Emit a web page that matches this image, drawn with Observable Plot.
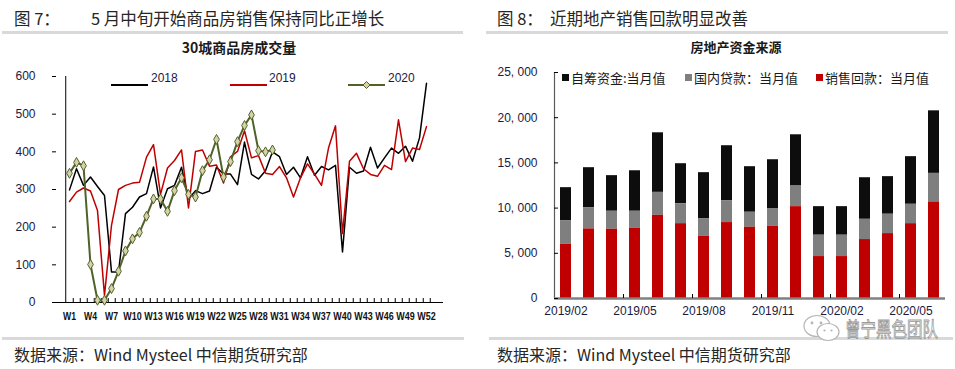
<!DOCTYPE html>
<html><head><meta charset="utf-8">
<script src="https://cdn.jsdelivr.net/npm/d3@7"></script>
<script src="https://cdn.jsdelivr.net/npm/@observablehq/plot@0.6"></script>
<style>
body{margin:0;background:#fff;}
#page{position:relative;width:955px;height:369px;overflow:hidden;font-family:"Noto Sans CJK SC","Noto Sans",sans-serif;color:#262626;background:#fff;}
.abs{position:absolute;white-space:nowrap;line-height:1;transform:translateY(-50%);}
.fig{font-size:16.5px;}
.hr{position:absolute;height:3px;background:#d9d9d9;}
.ct{font-weight:bold;font-size:14px;color:#1a1a1a;transform:translate(-50%,-50%);}
.src{font-size:16px;}
.lg{font-family:"Liberation Sans",Arial,sans-serif;font-size:12px;color:#1a1a40;}
.lg2{font-size:13px;color:#1a1a1a;}
.sw{position:absolute;}
.sq{position:absolute;width:7px;height:7px;}
.plot{position:absolute;}
</style></head>
<body><div id="page">
<div class="abs fig" style="left:14px;top:18px">图 7：</div>
<div class="abs fig" style="left:91px;top:18px">5 月中旬开始商品房销售保持同比正增长</div>
<div class="hr" style="left:2px;top:31px;width:461px"></div>
<div class="abs ct" style="left:239px;top:47px">30城商品房成交量</div>

<div class="abs fig" style="left:497px;top:18px">图 8：</div>
<div class="abs fig" style="left:550px;top:18px">近期地产销售回款明显改善</div>
<div class="hr" style="left:486px;top:31px;width:462px"></div>
<div class="abs ct" style="left:736px;top:46px;font-size:13px">房地产资金来源</div>

<div id="left" class="plot" style="left:0px;top:60px"></div>
<div id="right" class="plot" style="left:480px;top:60px"></div>

<div id="legL"></div>
<div id="legR"></div>

<div class="hr" style="left:2px;top:337px;width:462px"></div>
<div class="hr" style="left:489px;top:337px;width:464px"></div>
<div class="abs src" style="left:14px;top:354px">数据来源：Wind Mysteel 中信期货研究部</div>
<div class="abs src" style="left:497px;top:354px">数据来源：Wind Mysteel 中信期货研究部</div>
<svg style="position:absolute;left:800px;top:313px" width="44" height="30">
  <ellipse cx="17" cy="13" rx="13" ry="10.5" fill="none" stroke="#b5b5b5" stroke-width="1.2"/>
  <ellipse cx="28" cy="19" rx="11" ry="8.5" fill="#fff" stroke="#b5b5b5" stroke-width="1.2"/>
  <circle cx="12" cy="10" r="1.4" fill="#b5b5b5"/><circle cx="21" cy="10" r="1.4" fill="#b5b5b5"/>
  <circle cx="24.5" cy="17.5" r="1.1" fill="#b5b5b5"/><circle cx="31.5" cy="17.5" r="1.1" fill="#b5b5b5"/>
</svg>
<div class="abs" style="left:845px;top:329px;font-size:15.5px;color:transparent;-webkit-text-stroke:0.7px #9a9a9a;transform:translateY(-50%) scaleY(1.3);transform-origin:left center;">曾宁黑色团队</div>
</div>
<script>
// ---------- Chart 1 data: 30城商品房成交量 ----------
const weeks = ["W1","W2","W3","W4","W5","W6","W7","W8","W9","W10","W11","W12","W13","W14","W15","W16","W17","W18","W19","W20","W21","W22","W23","W24","W25","W26","W27","W28","W29","W30","W31","W32","W33","W34","W35","W36","W37","W38","W39","W40","W41","W42","W43","W44","W45","W46","W47","W48","W49","W50","W51","W52"];
const weekTickLabels = ["W1","W4","W7","W10","W13","W16","W19","W22","W25","W28","W31","W34","W37","W40","W43","W46","W49","W52"];
const yTicksL = [0,100,200,300,400,500,600];
const s2018 = [299,355,311,333,308,284,81,81,236,253,280,289,360,251,302,311,359,275,297,289,296,359,341,341,313,426,340,328,350,400,387,340,359,331,387,338,361,352,364,134,359,343,349,412,357,384,410,396,415,375,437,582];
const s2019 = [268,293,304,296,244,19,205,300,311,317,319,386,419,287,357,377,405,251,401,405,362,365,317,387,401,456,384,390,343,340,361,331,280,331,368,341,311,410,469,183,375,396,355,340,335,364,353,485,374,410,406,467];
const s2020 = [343,372,363,101,6,6,37,83,137,169,186,229,275,275,242,297,331,287,280,350,379,433,333,374,427,470,498,403,400,405];
const seriesL = ["2018","2019","2020"];
const colorsL = ["#000000","#c00000","#4f6228"];

// ---------- Chart 2 data: 房地产资金来源 ----------
const months = ["2019/02","2019/03","2019/04","2019/05","2019/06","2019/07","2019/08","2019/09","2019/10","2019/11","2019/12","2020/01","2020/02","2020/03","2020/04","2020/05","2020/06"];
const monthTickLabels = ["2019/02","2019/05","2019/08","2019/11","2020/02","2020/05"];
const yTicksR = [0,5000,10000,15000,20000,25000];
const selfFunds = [3680,4450,3940,4480,6590,4420,5080,6070,5040,5450,5670,3160,3160,4600,4160,5270,6920];
const domesticLoans = [2580,2320,1990,1880,2540,2210,1950,2430,1660,1910,2280,2360,2360,2240,2140,2140,3160];
const salesReturns = [6000,7700,7660,7770,9200,8280,6890,8400,7880,7990,10160,4640,4640,6520,7180,8280,10680];
const seriesR = ["自筹资金:当月值","国内贷款：当月值","销售回款：当月值"];
const colorsR = ["#0d0d0d","#7f7f7f","#c00000"];

// ---------- Left plot ----------
const W1 = 470, H1 = 270, ml1 = 52, mr1 = 27, mt1 = 16, mb1 = 28;
const step1 = (W1 - ml1 - mr1) / weeks.length;
const rows = (arr, s) => arr.map((v, i) => ({week: weeks[i], value: v, series: s}));
const tickLenL = 600 * 4 / (H1 - mt1 - mb1);
const leftPlot = Plot.plot({
  width: W1, height: H1, marginLeft: ml1, marginRight: mr1, marginTop: mt1, marginBottom: mb1,
  style: {fontFamily: "'Liberation Sans', Arial, sans-serif", fontSize: "12px", color: "#1a1a40", background: "transparent", overflow: "visible"},
  x: {type: "point", domain: weeks, padding: 0.5, label: null},
  y: {domain: [0, 600], label: null},
  marks: [
    Plot.ruleX(weeks, {dx: step1 / 2, y1: 0, y2: tickLenL, stroke: "#000", strokeWidth: 1}),
    Plot.ruleX([weeks[0]], {dx: -step1 / 2, stroke: "#000", strokeWidth: 1}),
    Plot.ruleY([0], {stroke: "#000", strokeWidth: 1}),
    Plot.axisY({ticks: yTicksL, tickSize: -4, tickPadding: 21, fontSize: 12, label: null, stroke: "#000"}),
    Plot.axisX({ticks: weekTickLabels, tickSize: 0, tickPadding: 10, label: null, fontSize: 11, fontWeight: "bold",
      fontFamily: "'Liberation Sans', Arial, sans-serif", fill: "#111"}),
    Plot.line(rows(s2018, "2018"), {x: "week", y: "value", stroke: colorsL[0], strokeWidth: 1.5}),
    Plot.line(rows(s2019, "2019"), {x: "week", y: "value", stroke: colorsL[1], strokeWidth: 1.5}),
    Plot.line(rows(s2020, "2020"), {x: "week", y: "value", stroke: colorsL[2], strokeWidth: 2}),
    Plot.dot(rows(s2020, "2020"), {x: "week", y: "value", symbol: "diamond", r: 3, fill: "#d6d1a9", stroke: colorsL[2], strokeWidth: 1})
  ]
});
document.getElementById("left").appendChild(leftPlot);
// condense week tick labels (narrow font look)
d3.select(leftPlot).selectAll("text").each(function() {
  const t = this.textContent;
  if (/^W\d+$/.test(t)) {
    this.setAttribute("textLength", (7.6 + 5.4 * (t.length - 1)).toFixed(1));
    this.setAttribute("lengthAdjust", "spacingAndGlyphs");
  }
});

// ---------- Right plot ----------
const W2 = 475, H2 = 270, ml2 = 74, mr2 = 10, mt2 = 12, mb2 = 32;
const step2 = (W2 - ml2 - mr2) / months.length;
const table = [];
months.forEach((m, i) => {
  table.push({month: m, series: seriesR[0], value: selfFunds[i]});
  table.push({month: m, series: seriesR[1], value: domesticLoans[i]});
  table.push({month: m, series: seriesR[2], value: salesReturns[i]});
});
const fmtR = d => d3.format(",")(d).replace(/,/g, ", ");
const tickLenR = 25000 * 4 / (H2 - mt2 - mb2);
const rightPlot = Plot.plot({
  width: W2, height: H2, marginLeft: ml2, marginRight: mr2, marginTop: mt2, marginBottom: mb2,
  style: {fontFamily: "'Liberation Sans', Arial, sans-serif", fontSize: "12px", color: "#1a1a40", background: "transparent", overflow: "visible"},
  x: {type: "band", domain: months, paddingInner: 0.52, paddingOuter: 0.26, label: null},
  y: {domain: [0, 25000], label: null},
  color: {domain: seriesR, range: colorsR},
  marks: [
    Plot.barY(table, Plot.stackY({x: "month", y: "value", fill: "series", order: [seriesR[2], seriesR[1], seriesR[0]]})),
    Plot.ruleX([months[0]], {dx: -step2 / 2, stroke: "#595959", strokeWidth: 1.2}),
    Plot.ruleY([0], {stroke: "#808080", strokeWidth: 2.5}),
    Plot.ruleX(monthTickLabels.slice(1), {dx: -step2 / 2, y1: 0, y2: tickLenR, stroke: "#000"}),
    Plot.axisY({ticks: yTicksR, tickSize: -4, tickPadding: 21, tickFormat: fmtR, fontSize: 12, label: null, stroke: "#000"}),
    Plot.axisX({ticks: monthTickLabels, tickSize: 0, tickPadding: 8, label: null, fontSize: 12, fill: "#1a1a40"})
  ]
});
document.getElementById("right").appendChild(rightPlot);

// ---------- Legends (HTML) ----------
const legL = document.getElementById("legL");
const legLPos = [{line: 111, text: 151}, {line: 230, text: 269}, {line: 348, text: 388}];
seriesL.forEach((s, i) => {
  const p = legLPos[i];
  const sw = document.createElement("div");
  sw.className = "sw";
  sw.style.left = p.line + "px"; sw.style.top = "72px";
  let svg = `<svg width="38" height="12"><line x1="0" x2="37" y1="6" y2="6" stroke="${colorsL[i]}" stroke-width="2"/>`;
  if (s === "2020") svg += `<path d="M18.5,2.5 L22,6 L18.5,9.5 L15,6 Z" fill="#d6d1a9" stroke="${colorsL[i]}" stroke-width="1"/>`;
  svg += `</svg>`;
  sw.innerHTML = svg;
  legL.appendChild(sw);
  const t = document.createElement("div");
  t.className = "abs lg";
  t.style.left = p.text + "px"; t.style.top = "78px";
  t.textContent = s;
  legL.appendChild(t);
});
const legR = document.getElementById("legR");
const legRPos = [{sq: 562, text: 571}, {sq: 685, text: 694}, {sq: 816, text: 825}];
seriesR.forEach((s, i) => {
  const p = legRPos[i];
  const q = document.createElement("div");
  q.className = "sq";
  q.style.left = p.sq + "px"; q.style.top = "73.5px"; q.style.background = colorsR[i];
  legR.appendChild(q);
  const t = document.createElement("div");
  t.className = "abs lg2";
  t.style.left = p.text + "px"; t.style.top = "77px";
  t.textContent = s;
  legR.appendChild(t);
});
</script>
</body></html>
